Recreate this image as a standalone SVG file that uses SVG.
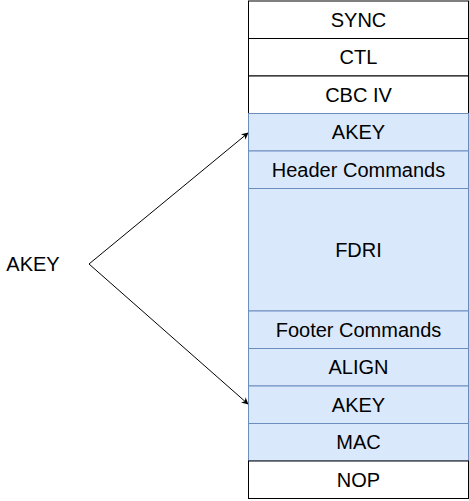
<svg xmlns="http://www.w3.org/2000/svg" width="469" height="501" viewBox="0 0 469 501">
<defs>
<style>
.w{fill:#ffffff;stroke:#000000;stroke-width:1}
.b{fill:#dae8fc;stroke:#6c8ebf;stroke-width:1}
text{font-family:"Liberation Sans",Arial,sans-serif;font-size:20px;fill:#000;text-anchor:middle;dominant-baseline:central}
.c{fill:none;stroke:#000;stroke-width:1}
</style>
<marker id="ah" viewBox="0 0 10 10" refX="9" refY="5" markerWidth="7" markerHeight="7" orient="auto" markerUnits="userSpaceOnUse">
<path d="M0,0 L10,5 L0,10 L3,5 Z" fill="#000"/>
</marker>
</defs>
<g id="sync"><rect class="w" x="248.5" y="1" width="220" height="37.5"/><text x="358.5" y="19.75">SYNC</text></g>
<g id="ctl"><rect class="w" x="248.5" y="38.5" width="220" height="37.5"/><text x="358.5" y="57.25">CTL</text></g>
<g id="cbciv"><rect class="w" x="248.5" y="76" width="220" height="37.5"/><text x="358.5" y="94.75">CBC IV</text></g>
<g id="akey1"><rect class="b" x="248.5" y="113.5" width="220" height="37.5"/><text x="358.5" y="132.25">AKEY</text></g>
<g id="header"><rect class="b" x="248.5" y="151" width="220" height="37.5"/><text x="358.5" y="169.75">Header Commands</text></g>
<g id="fdri"><rect class="b" x="248.5" y="188.5" width="220" height="122.5"/><text x="358.5" y="249.75">FDRI</text></g>
<g id="footer"><rect class="b" x="248.5" y="311" width="220" height="37.5"/><text x="358.5" y="329.75">Footer Commands</text></g>
<g id="align"><rect class="b" x="248.5" y="348.5" width="220" height="37.5"/><text x="358.5" y="367.25">ALIGN</text></g>
<g id="akey2"><rect class="b" x="248.5" y="386" width="220" height="37.5"/><text x="358.5" y="404.75">AKEY</text></g>
<g id="mac"><rect class="b" x="248.5" y="423.5" width="220" height="37.5"/><text x="358.5" y="442.25">MAC</text></g>
<g id="nop"><rect class="w" x="248.5" y="461" width="220" height="37.5"/><text x="358.5" y="479.75">NOP</text></g>
<g id="akey-label"><text x="33" y="264">AKEY</text></g>
<g id="connectors">
<path class="c" d="M89,264 L248,133" marker-end="url(#ah)"/>
<path class="c" d="M89,264 L248,404" marker-end="url(#ah)"/>
</g>
</svg>
